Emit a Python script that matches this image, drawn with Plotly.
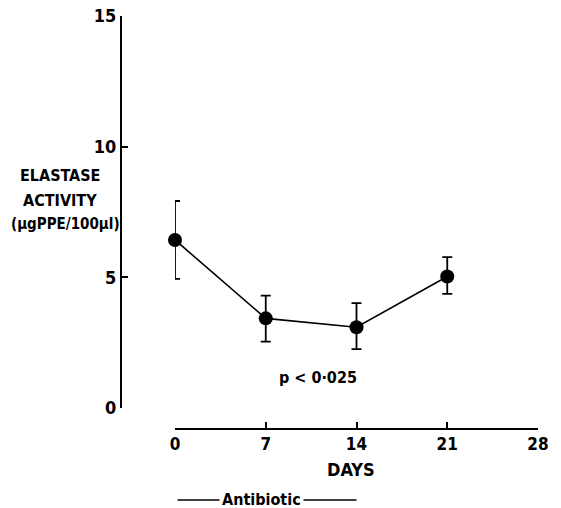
import plotly.graph_objects as go

days = [0, 7, 14, 21]
elastase = [6.43, 3.43, 3.09, 5.03]
err_plus = [1.49, 0.87, 0.92, 0.74]
err_minus = [1.49, 0.89, 0.84, 0.66]
x_ticks = [0, 7, 14, 21, 28]
y_ticks = [0, 5, 10, 15]

FONT = "DejaVu Sans Condensed, Roboto Condensed, Liberation Sans Narrow, Roboto"
W, H = 561, 508
ml, mr, mt, mb = 60, 23, 16, 79
plot_w = W - ml - mr
plot_h = H - mt - mb
x_dom0 = (175 - ml) / plot_w
y_pos = (121 - ml) / plot_w
y_dom0 = (429 - 408) / plot_h

fig = go.Figure()
fig.add_trace(go.Scatter(
    x=days, y=elastase, mode="lines+markers",
    line=dict(color="black", width=1.6),
    marker=dict(color="black", size=14),
    error_y=dict(type="data", symmetric=False, array=err_plus, arrayminus=err_minus,
                 color="black", thickness=1.8, width=5),
    showlegend=False, cliponaxis=False, hoverinfo="skip",
))

fig.update_layout(
    width=W, height=H,
    margin=dict(l=ml, r=mr, t=mt, b=mb, autoexpand=False),
    plot_bgcolor="white", paper_bgcolor="white",
    font=dict(family=FONT, size=16, color="black"),
    xaxis=dict(domain=[x_dom0, 1], range=[0, 28], anchor="free", position=0,
               automargin=False,
               tickvals=x_ticks, ticktext=[str(v) for v in x_ticks],
               showline=True, linecolor="black", linewidth=2,
               ticks="inside", ticklen=6, tickwidth=2, tickcolor="black",
               showgrid=False, zeroline=False,
               tickfont=dict(family=FONT, size=17, color="black", weight="bold")),
    yaxis=dict(domain=[y_dom0, 1], range=[0, 15], anchor="free", position=y_pos,
               automargin=False,
               tickvals=y_ticks, ticktext=[str(v) for v in y_ticks],
               showline=True, linecolor="black", linewidth=2,
               ticks="inside", ticklen=6, tickwidth=2, tickcolor="black",
               showgrid=False, zeroline=False,
               tickfont=dict(family=FONT, size=18, color="black", weight="bold")),
)

ann = dict(xref="paper", yref="paper", showarrow=False,
           xanchor="center", yanchor="middle",
           font=dict(family=FONT, size=16, color="black", weight="bold"))

def px_x(x):
    return (x - ml) / plot_w

def px_y(y):
    return (H - mb - y) / plot_h

fig.add_annotation(text="ELASTASE", x=px_x(60), y=px_y(175), **ann)
fig.add_annotation(text="ACTIVITY", x=px_x(60), y=px_y(200), **ann)
fig.add_annotation(text="(µgPPE/100µl)", x=px_x(65), y=px_y(224), xref="paper", yref="paper",
                   showarrow=False, xanchor="center", yanchor="middle",
                   font=dict(family=FONT, size=15, color="black", weight="bold"))
fig.add_annotation(text="p &lt; 0·025", x=px_x(318), y=px_y(377), **ann)
fig.add_annotation(text="DAYS", x=px_x(351), y=px_y(470),
                   xref="paper", yref="paper", showarrow=False,
                   xanchor="center", yanchor="middle",
                   font=dict(family=FONT, size=18, color="black", weight="bold"))

# antibiotic period (days 0-14)
fig.add_shape(type="line", xref="x", yref="paper", x0=0.2, x1=14,
              y0=px_y(500), y1=px_y(500), line=dict(color="black", width=1.3))
fig.add_annotation(text="Antibiotic", x=6.7, y=px_y(499), xref="x", yref="paper",
                   showarrow=False, bgcolor="white", xanchor="center", yanchor="middle",
                   borderpad=2,
                   font=dict(family=FONT, size=16, color="black", weight="bold"))

fig.write_html("out.html", config={"displayModeBar": False},
               post_script="document.body.style.margin='0';document.body.style.padding='0';")
